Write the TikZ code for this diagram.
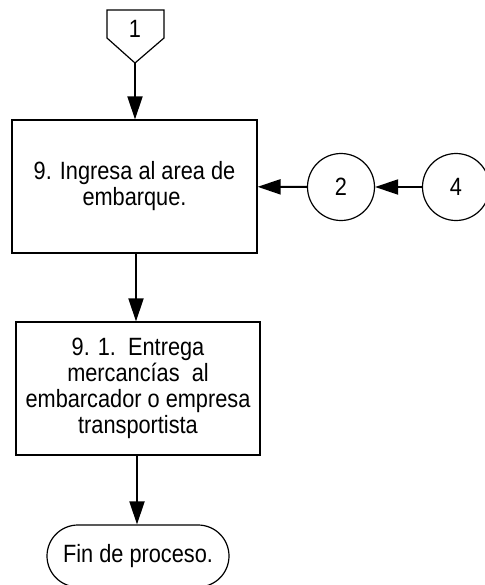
\documentclass[tikz,border=0pt]{standalone}
\usepackage{fontspec}
\setmainfont{Liberation Sans}[FakeStretch=0.87]
\usetikzlibrary{arrows.meta, positioning}

\begin{document}
\begin{tikzpicture}[x=0.5pt,y=-0.5pt,
  proceso/.style={draw,line width=0.6pt,minimum height=66.5pt,inner sep=0pt},
  conector/.style={draw,circle,line width=0.6pt,minimum size=33.5pt,inner sep=0pt},
  terminal/.style={draw,rounded corners=15.5pt,line width=0.6pt,minimum width=91pt,minimum height=31pt,inner sep=0pt},
  flecha/.style={line width=1pt,-{Triangle[length=11.5pt,width=7.5pt]}}]
\useasboundingbox (0,0) rectangle (484,585);
\fontsize{12.5}{13}\selectfont

% off-page connector
\draw[line width=0.6pt] (107,10) -- (164,10) -- (164,38) -- (135,63) -- (107,38) -- cycle;
\node (ref1) at (135,29) {1};
\coordinate (ref1tip) at (135,63);

\node[proceso,minimum width=122.5pt] (ingresa) at (134.5,186.5) {
\begin{minipage}{120pt}
\centering
9. Ingresa al area de\\
embarque.
\end{minipage}
};

\node[conector] (con2) at (341,187) {2};
\node[conector] (con4) at (456,187) {4};

\node[proceso,minimum width=122pt] (entrega) at (138,388.5) {
\begin{minipage}{120pt}
\centering
9. 1.\ \ Entrega\\
mercancías\ \ al\\
embarcador o empresa\\
transportista
\end{minipage}
};

\node[terminal] (fin) at (138,556) {Fin de proceso.};

\draw[flecha] (ref1tip) -- (ingresa.north -| ref1tip);
\draw[flecha] (con2) -- (ingresa);
\draw[flecha] (con4) -- (con2);
\draw[flecha] (ingresa.south -| 136,0) -- (entrega.north -| 136,0);
\draw[flecha] (entrega.south -| 137,0) -- (fin.north -| 137,0);
\end{tikzpicture}
\end{document}
